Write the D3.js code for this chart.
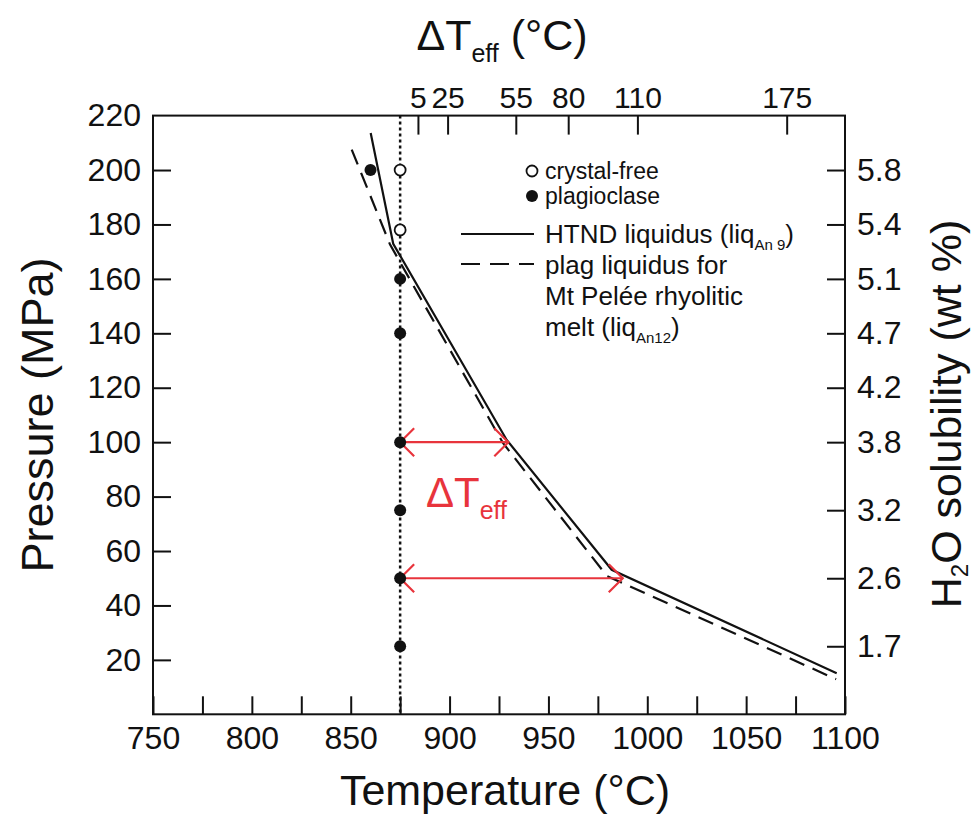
<!DOCTYPE html>
<html>
<head>
<meta charset="utf-8">
<script src="https://cdn.jsdelivr.net/npm/d3@7"></script>
<style>
  html, body { margin: 0; padding: 0; background: #fff; }
  svg text { font-family: 'Liberation Sans', Arial, Helvetica, sans-serif; fill: #111; }
</style>
</head>
<body>
<svg id="chart" width="978" height="818"></svg>
<script>
// ---------------- data ----------------
const tempTicks = [750, 775, 800, 825, 850, 875, 900, 925, 950, 975, 1000, 1025, 1050, 1075, 1100];
const pressureTicks = [20, 40, 60, 80, 100, 120, 140, 160, 180, 200, 220];
const solubilityP = [200, 180, 160, 140, 120, 100, 75, 50, 25];
const solubilityLabels = ['5.8', '5.4', '5.1', '4.7', '4.2', '3.8', '3.2', '2.6', '1.7'];
const deltaTickT = [884, 899, 933.5, 960, 995, 1070.5];
const deltaTickLabels = ['5', '25', '55', '80', '110', '175'];

const htndT = [860.1, 871.5, 928.9, 982.0, 1095.8];
const htndP = [213.6, 172.9, 100.8, 53.1, 15.1];
const plagLiqT = [850.5, 869.9, 927.0, 979.6, 1095.5];
const plagLiqP = [207.5, 172.6, 99.7, 50.8, 12.9];

const crystalFreeT = [875, 875];
const crystalFreeP = [200, 178];
const plagioclaseT = [860, 875, 875, 875, 875, 875, 875];
const plagioclaseP = [200, 160, 140, 100, 75, 50, 25];

const experimentT = 875;
const arrowP = [100, 50];
const arrowEndT = [929.7, 987.6];

// ---------------- layout ----------------
const svg = d3.select('#chart');
const M = { left: 153, right: 845, top: 115.6, bottom: 714.3 };
const x = d3.scaleLinear().domain([750, 1100]).range([M.left, M.right]);
const y = d3.scaleLinear().domain([0, 220]).range([M.bottom, M.top]);
const red = '#e8343c';
const tickFont = 32;

function styleAxis(g, size) {
  g.select('.domain').remove();
  g.selectAll('.tick line').attr('stroke', '#111').attr('stroke-width', 2);
  g.selectAll('.tick text').attr('font-size', size || tickFont).attr('fill', '#111')
    .style('font-family', "'Liberation Sans', Arial, sans-serif");
}

// bottom axis
svg.append('g').attr('transform', `translate(0,${M.bottom})`)
  .call(d3.axisBottom(x).tickValues(tempTicks).tickSize(-18).tickPadding(12)
    .tickFormat(d => d % 50 === 0 ? d : ''))
  .call(g => styleAxis(g));

// left axis
svg.append('g').attr('transform', `translate(${M.left},0)`)
  .call(d3.axisLeft(y).tickValues(pressureTicks).tickSize(-18).tickPadding(12))
  .call(g => styleAxis(g))
  .call(g => g.selectAll('.tick').filter(d => d === 220).select('line').remove());

// right axis
svg.append('g').attr('transform', `translate(${M.right},0)`)
  .call(d3.axisRight(y).tickValues(solubilityP).tickSize(-18).tickPadding(12)
    .tickFormat((d, i) => solubilityLabels[i]))
  .call(g => styleAxis(g));

// top axis
svg.append('g').attr('transform', `translate(0,${M.top})`)
  .call(d3.axisTop(x).tickValues(deltaTickT).tickSize(-19).tickPadding(8)
    .tickFormat((d, i) => deltaTickLabels[i]))
  .call(g => styleAxis(g, 30));

// frame
svg.append('rect')
  .attr('x', M.left).attr('y', M.top)
  .attr('width', M.right - M.left).attr('height', M.bottom - M.top)
  .attr('fill', 'none').attr('stroke', '#111').attr('stroke-width', 2);

// dotted experiment line
svg.append('line')
  .attr('x1', x(experimentT)).attr('x2', x(experimentT))
  .attr('y1', y(220)).attr('y2', y(0))
  .attr('stroke', '#111').attr('stroke-width', 2.5).attr('stroke-dasharray', '3,3');

// liquidus lines
const line = d3.line().x(d => x(d[0])).y(d => y(d[1]));
svg.append('path').datum(htndT.map((t, i) => [t, htndP[i]]))
  .attr('d', line).attr('fill', 'none').attr('stroke', '#111').attr('stroke-width', 2.2);
svg.append('path').datum(plagLiqT.map((t, i) => [t, plagLiqP[i]]))
  .attr('d', line).attr('fill', 'none').attr('stroke', '#111').attr('stroke-width', 2.2)
  .attr('stroke-dasharray', '16,9');

// red double arrows
arrowP.forEach((p, i) => {
  const x0 = x(experimentT), x1 = x(arrowEndT[i]), yy = y(p);
  const g = svg.append('g').attr('stroke', red).attr('stroke-width', 2.2).attr('fill', 'none');
  g.append('line').attr('x1', x0).attr('x2', x1).attr('y1', yy).attr('y2', yy);
  g.append('path').attr('d', `M${x0 + 14},${yy - 14} L${x0},${yy} L${x0 + 14},${yy + 14}`);
  g.append('path').attr('d', `M${x1 - 14},${yy - 14} L${x1},${yy} L${x1 - 14},${yy + 14}`);
});

// data points
svg.append('g').selectAll('circle').data(plagioclaseT.map((t, i) => [t, plagioclaseP[i]]))
  .join('circle').attr('cx', d => x(d[0])).attr('cy', d => y(d[1])).attr('r', 6)
  .attr('fill', '#111');
svg.append('g').selectAll('circle').data(crystalFreeT.map((t, i) => [t, crystalFreeP[i]]))
  .join('circle').attr('cx', d => x(d[0])).attr('cy', d => y(d[1])).attr('r', 5.5)
  .attr('fill', '#fff').attr('stroke', '#111').attr('stroke-width', 1.8);

// ΔTeff red label
const dLab = svg.append('text').attr('x', 426).attr('y', y(80) + 10)
  .attr('font-size', 42).style('fill', red);
dLab.append('tspan').text('ΔT').style('fill', red);
dLab.append('tspan').text('eff').attr('font-size', 25).attr('dy', 12).style('fill', red);

// legend
const lg = svg.append('g');
const lx = 545;
lg.append('circle').attr('cx', 532).attr('cy', 171).attr('r', 5.5)
  .attr('fill', '#fff').attr('stroke', '#111').attr('stroke-width', 1.8);
lg.append('text').attr('x', lx).attr('y', 179).attr('font-size', 23).text('crystal-free');
lg.append('circle').attr('cx', 532).attr('cy', 196).attr('r', 6).attr('fill', '#111');
lg.append('text').attr('x', lx).attr('y', 204).attr('font-size', 23).text('plagioclase');
lg.append('line').attr('x1', 461).attr('x2', 534).attr('y1', 234).attr('y2', 234)
  .attr('stroke', '#111').attr('stroke-width', 2);
const legFont = 26;
const t1 = lg.append('text').attr('x', lx).attr('y', 243).attr('font-size', legFont);
t1.append('tspan').text('HTND liquidus (liq');
t1.append('tspan').text('An 9').attr('font-size', 15).attr('dy', 7);
t1.append('tspan').text(')').attr('dy', -7);
lg.append('line').attr('x1', 461).attr('x2', 534).attr('y1', 264).attr('y2', 264)
  .attr('stroke', '#111').attr('stroke-width', 2).attr('stroke-dasharray', '19,10');
lg.append('text').attr('x', lx).attr('y', 274).attr('font-size', legFont).text('plag liquidus for');
lg.append('text').attr('x', lx).attr('y', 305).attr('font-size', legFont).text('Mt Pelée rhyolitic');
const t2 = lg.append('text').attr('x', lx).attr('y', 336).attr('font-size', legFont);
t2.append('tspan').text('melt (liq');
t2.append('tspan').text('An12').attr('font-size', 15).attr('dy', 7);
t2.append('tspan').text(')').attr('dy', -7);

// axis titles
svg.append('text').attr('x', 505).attr('y', 805)
  .attr('text-anchor', 'middle').attr('font-size', 43).text('Temperature (°C)');

svg.append('text').attr('transform', `translate(53,415) rotate(-90)`)
  .attr('text-anchor', 'middle').attr('font-size', 45).text('Pressure (MPa)');

const rt = svg.append('text').attr('transform', `translate(961,414) rotate(-90)`)
  .attr('text-anchor', 'middle').attr('font-size', 43);
rt.append('tspan').text('H');
rt.append('tspan').text('2').attr('font-size', 24).attr('dy', 7);
rt.append('tspan').text('O solubility (wt %)').attr('dy', -7);

const tt = svg.append('text').attr('x', 502).attr('y', 50)
  .attr('text-anchor', 'middle').attr('font-size', 43);
tt.append('tspan').text('ΔT');
tt.append('tspan').text('eff').attr('font-size', 25).attr('dy', 12);
tt.append('tspan').text(' (°C)').attr('dy', -12);
</script>
</body>
</html>
